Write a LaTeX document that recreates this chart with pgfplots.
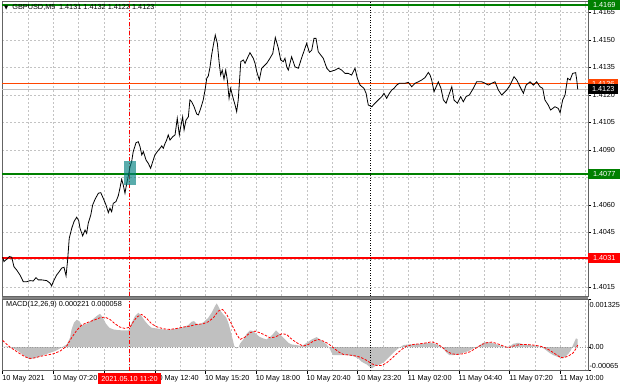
\documentclass[border=0pt]{standalone}
\usepackage{pgfplots}
\pgfplotsset{compat=1.18}
\usepackage{pgfplotstable}
\usepackage{fontspec}
\setmainfont{Liberation Sans}
\newfontfamily\dejavu{DejaVu Sans}
\definecolor{mtgreen}{RGB}{0,128,0}
\definecolor{mtred}{RGB}{255,0,0}
\definecolor{mtorange}{RGB}{255,69,0}
\definecolor{mtgrid}{RGB}{195,195,195}
\definecolor{mtsilver}{RGB}{192,192,192}
\definecolor{mtframe}{RGB}{100,100,100}
\definecolor{mtteal}{RGB}{0,128,128}
\newcommand\mtfont{\fontsize{7.3}{8.5}\selectfont}

\pgfplotstableread{
i p
0 1.40314
0.8 1.40290
2.5 1.40303
4.2 1.40317
5.7 1.40314
7.1 1.40262
8.8 1.40244
10.9 1.40217
13.0 1.40180
15.2 1.40180
17.2 1.40186
19.3 1.40184
21.0 1.40202
22.5 1.40190
24.6 1.40190
27.8 1.40186
29.9 1.40172
30.9 1.40157
31.9 1.40180
34.1 1.40217
35.7 1.40235
37.2 1.40254
38.7 1.40259
40.0 1.40212
41.0 1.40299
42.0 1.40417
43.6 1.40472
45.0 1.40508
46.7 1.40532
48.0 1.40513
48.8 1.40472
50.5 1.40430
52.0 1.40462
53.0 1.40444
54.0 1.40499
55.6 1.40544
56.8 1.40599
58.3 1.40630
60.4 1.40663
61.9 1.40666
63.5 1.40635
65.2 1.40599
66.7 1.40557
67.7 1.40581
68.8 1.40562
69.8 1.40608
71.5 1.40617
73.0 1.40650
74.0 1.40690
75.1 1.40739
76.1 1.40708
77.2 1.40663
78.3 1.40717
79.3 1.40757
80.4 1.40808
81.4 1.40835
82.4 1.40890
84.2 1.40939
85.6 1.40944
86.7 1.40917
87.8 1.40872
88.8 1.40890
90.5 1.40844
91.9 1.40826
93.4 1.40799
94.7 1.40835
96.1 1.40872
97.6 1.40890
99.3 1.40908
100.4 1.40921
101.4 1.40908
102.5 1.40935
103.5 1.40953
104.5 1.40981
105.6 1.40953
107.3 1.40971
108.8 1.40981
110.2 1.41072
111.5 1.40981
112.4 1.41026
113.6 1.41080
114.5 1.41008
115.7 1.41062
117.2 1.41080
118.2 1.41172
119.3 1.41162
120.8 1.41135
122.5 1.41095
123.5 1.41090
125.0 1.41126
126.6 1.41172
127.9 1.41235
128.8 1.41290
129.8 1.41303
130.9 1.41353
131.9 1.41417
133.0 1.41472
134.2 1.41526
135.5 1.41481
136.7 1.41372
137.6 1.41308
138.6 1.41335
139.7 1.41285
140.8 1.41335
141.8 1.41281
142.9 1.41181
143.9 1.41235
145.2 1.41190
146.7 1.41144
147.7 1.41108
148.7 1.41172
149.4 1.41263
150.3 1.41381
151.9 1.41390
153.0 1.41372
154.4 1.41399
156.1 1.41430
158.2 1.41399
159.3 1.41372
160.4 1.41326
162.0 1.41281
163.5 1.41345
166.7 1.41372
168.7 1.41399
170.5 1.41426
172.1 1.41513
174.0 1.41455
175.5 1.41390
177.1 1.41381
178.2 1.41399
179.3 1.41353
180.3 1.41335
182.4 1.41408
184.5 1.41353
186.6 1.41345
188.8 1.41403
190.8 1.41454
191.9 1.41481
193.6 1.41431
195.1 1.41444
196.5 1.41508
197.8 1.41508
199.2 1.41435
200.8 1.41417
202.4 1.41399
204.6 1.41345
206.6 1.41326
209.8 1.41335
211.9 1.41345
214.0 1.41335
216.1 1.41317
218.2 1.41317
220.3 1.41308
222.4 1.41345
223.9 1.41290
225.6 1.41253
228.1 1.41235
229.4 1.41208
230.8 1.41144
233.0 1.41135
235.0 1.41154
237.1 1.41172
239.3 1.41190
240.7 1.41208
242.4 1.41181
244.1 1.41208
245.6 1.41226
247.0 1.41235
248.7 1.41253
250.4 1.41263
254.0 1.41263
256.1 1.41268
258.2 1.41244
260.3 1.41263
262.4 1.41271
264.5 1.41281
266.6 1.41294
268.7 1.41322
269.8 1.41308
270.8 1.41281
272.3 1.41217
275.0 1.41271
276.7 1.41235
278.2 1.41172
279.9 1.41154
281.3 1.41190
283.5 1.41244
284.9 1.41172
287.0 1.41154
289.1 1.41190
290.8 1.41162
292.5 1.41190
294.6 1.41199
297.1 1.41235
299.2 1.41271
302.4 1.41271
304.5 1.41263
306.6 1.41253
308.7 1.41263
310.8 1.41271
312.9 1.41226
315.0 1.41199
318.2 1.41226
320.3 1.41253
322.8 1.41299
324.5 1.41281
326.6 1.41244
328.7 1.41208
330.4 1.41253
332.9 1.41271
335.0 1.41253
337.1 1.41271
339.2 1.41244
340.9 1.41235
342.3 1.41172
344.4 1.41144
345.9 1.41117
348.6 1.41135
350.7 1.41126
351.9 1.41102
353.5 1.41172
355.0 1.41199
356.6 1.41290
358.2 1.41281
359.8 1.41317
361.7 1.41321
362.4 1.41281
363.0 1.41230
}\pricetable

\pgfplotstableread{
i v
0 0
2.5 0.000018
4.6 0
6.7 -0.000037
9.9 -0.000110
13.0 -0.000220
15.1 -0.000294
17.2 -0.000331
19.3 -0.000312
22.5 -0.000275
25.7 -0.000220
29.9 -0.000156
33.0 -0.000110
36.2 -0.000037
38.3 0.000018
40.4 0.000073
42.5 0.000257
43.5 0.000487
45.0 0.000670
46.7 0.000753
48.4 0.000716
49.8 0.000606
52.0 0.000624
54.1 0.000670
56.8 0.000762
59.3 0.000854
61.4 0.000918
63.1 0.000826
65.2 0.000643
67.3 0.000533
69.8 0.000487
73.0 0.000468
76.1 0.000459
79.3 0.000459
80.4 0.000551
81.4 0.000670
83.5 0.000854
85.6 0.000946
87.7 0.000854
89.8 0.000716
92.0 0.000606
94.0 0.000533
97.2 0.000514
101.4 0.000487
105.6 0.000478
109.8 0.000514
114.0 0.000551
117.2 0.000606
119.3 0.000698
120.8 0.000716
122.4 0.000643
124.5 0.000624
127.1 0.000698
129.8 0.000808
131.9 0.000946
134.0 0.001130
135.1 0.001203
136.1 0.001130
137.6 0.000992
139.3 0.000900
141.0 0.000826
142.4 0.000670
143.9 0.000441
145.2 0.000211
146.2 0.000028
147.7 -0.000037
149.0 0
149.8 0.000092
151.9 0.000211
154.0 0.000367
156.1 0.000459
158.2 0.000441
160.3 0.000349
162.4 0.000275
164.5 0.000239
166.6 0.000211
168.7 0.000275
170.8 0.000367
172.5 0.000459
174.0 0.000395
176.1 0.000303
178.2 0.000211
180.3 0.000119
182.4 0.000073
185.6 0.000055
188.8 0.000028
191.9 0.000119
195.1 0.000211
198.2 0.000275
200.3 0.000211
202.4 0.000147
204.5 0.000073
206.2 -0.000018
207.7 -0.000156
208.8 -0.000220
213.0 -0.000220
217.2 -0.000220
221.4 -0.000248
224.5 -0.000312
226.6 -0.000404
229.8 -0.000478
231.9 -0.000551
233.0 -0.000588
235.1 -0.000523
238.2 -0.000478
241.4 -0.000386
244.5 -0.000248
247.7 -0.000110
249.8 -0.000037
252.9 0.000055
256.1 0.000073
259.2 0.000073
263.5 0.000092
267.7 0.000110
270.8 0.000119
274.0 0.000073
277.1 0
278.6 -0.000064
280.3 -0.000156
282.0 -0.000220
284.5 -0.000220
287.7 -0.000202
290.8 -0.000156
294.0 -0.000110
297.1 -0.000037
300.3 0.000028
303.4 0.000119
305.5 0.000138
308.7 0.000119
311.9 0.000073
315.0 0.000028
318.2 0
320.3 0.000028
322.4 0.000092
325.5 0.000119
328.7 0.000073
332.9 0.000055
337.1 0.000028
340.3 0
342.4 -0.000064
345.1 -0.000156
347.6 -0.000220
350.8 -0.000275
352.9 -0.000312
355.0 -0.000275
357.1 -0.000184
358.6 -0.000092
360.2 0.000073
361.9 0.000239
363.0 0.000221
363.0 0
}\histtable

\pgfplotstableread{
i v
0 0.000184
1.5 0.000119
4.6 0
7.8 -0.000092
11.0 -0.000184
14.1 -0.000266
17.2 -0.000312
20.4 -0.000294
23.5 -0.000257
27.8 -0.000220
32.0 -0.000184
36.2 -0.000110
40.4 0.000028
43.5 0.000257
46.7 0.000459
49.8 0.000606
53.0 0.000670
57.2 0.000735
61.4 0.000808
64.6 0.000826
67.7 0.000762
70.9 0.000643
74.0 0.000551
77.2 0.000514
80.4 0.000551
82.5 0.000698
84.6 0.000826
87.7 0.000900
90.9 0.000790
94.0 0.000643
97.2 0.000560
101.4 0.000505
105.6 0.000487
109.8 0.000514
114.0 0.000551
118.2 0.000579
122.4 0.000624
126.6 0.000643
129.8 0.000698
133.0 0.000808
136.1 0.000992
138.8 0.001038
141.4 0.000900
143.5 0.000716
145.6 0.000533
147.7 0.000349
149.8 0.000211
153.0 0.000275
156.1 0.000395
159.3 0.000441
162.4 0.000395
165.6 0.000331
168.7 0.000257
171.9 0.000275
176.1 0.000367
179.3 0.000349
181.4 0.000257
183.5 0.000184
186.7 0.000092
189.8 0.000028
193.0 0.000073
196.1 0.000165
199.3 0.000211
202.4 0.000165
205.6 0.000092
208.8 -0.000018
211.9 -0.000129
215.1 -0.000202
219.3 -0.000220
223.5 -0.000248
226.6 -0.000294
229.8 -0.000367
233.0 -0.000459
236.1 -0.000505
239.3 -0.000505
242.4 -0.000432
245.6 -0.000312
248.7 -0.000184
251.9 -0.000064
255.0 0.000028
259.2 0.000073
263.5 0.000092
267.7 0.000119
270.8 0.000147
274.0 0.000101
277.1 0.000009
280.3 -0.000110
283.4 -0.000184
286.6 -0.000202
290.8 -0.000184
295.0 -0.000129
299.2 -0.000018
302.4 0.000073
305.5 0.000119
308.7 0.000138
311.9 0.000101
316.1 0.000028
319.2 -0.000018
322.4 0.000028
326.6 0.000073
330.8 0.000073
335.0 0.000055
339.2 0.000028
342.4 -0.000018
345.5 -0.000092
348.7 -0.000184
351.8 -0.000275
353.9 -0.000294
357.1 -0.000248
360.2 -0.000156
361.9 -0.000040
363.0 0.000058
}\signaltable

\begin{document}
\begin{tikzpicture}[x=1pt,y=1pt]
\useasboundingbox (0pt,0pt) rectangle (620pt,-388pt);
\fill[white] (0pt,0pt) rectangle (620pt,-388pt);
% panel separator band
\fill[mtframe!80] (2pt,-296pt) rectangle (588pt,-299pt);

% ---------------- main price panel ----------------
\begin{axis}[
  at={(2pt,-1pt)}, anchor=north west,
  scale only axis, width=586pt, height=295pt,
  xmin=-0.44, xmax=369.5, ymin=1.40102, ymax=1.41712,
  axis line style={mtframe, line width=0.8pt},
  xtick={0,32,...,352}, minor xtick={16,48,...,368},
  xticklabels={}, xtick style={draw=none},
  xmajorgrids, xminorgrids, ymajorgrids,
  grid style={mtgrid, dash pattern=on 2pt off 2pt, line width=0.5pt},
  minor grid style={mtgrid, dash pattern=on 2pt off 2pt, line width=0.5pt},
  ytick={1.4015,1.4030,1.4045,1.4060,1.4075,1.4090,1.4105,1.4120,1.4135,1.4150,1.4165},
  ytick pos=right, yticklabel pos=right, tick align=outside,
  major tick length=3pt, minor tick length=0pt,
  ytick style={black, line width=0.5pt},
  yticklabel style={font=\mtfont, anchor=west, inner sep=0pt, xshift=1.5pt},
  /pgf/number format/fixed, /pgf/number format/fixed zerofill,
  /pgf/number format/precision=4, /pgf/number format/assume math mode=true,
  scaled y ticks=false,
]
\addplot[mtsilver, line width=0.8pt] coordinates {(-0.44,1.4123) (369.5,1.4123)};
\addplot[mtorange, line width=1pt] coordinates {(-0.44,1.4126) (369.5,1.4126)};
\addplot[mtgreen, line width=2.6pt] coordinates {(-0.44,1.4169) (369.5,1.4169)};
\addplot[mtgreen, line width=1.8pt] coordinates {(-0.44,1.4077) (369.5,1.4077)};
\addplot[mtred, line width=1.6pt] coordinates {(-0.44,1.4031) (369.5,1.4031)};
\addplot[mtred, line width=0.7pt, dash pattern=on 4pt off 2pt on 1pt off 2pt] coordinates {(80,1.40102) (80,1.41712)};
\addplot[black, line width=0.8pt, dash pattern=on 1pt off 1.5pt] coordinates {(232,1.40102) (232,1.41712)};
\addplot[black, line width=0.8pt] table[x=i, y=p] {\pricetable};
\fill[mtteal, opacity=0.65] (axis cs:76.8,1.40708) rectangle (axis cs:84.2,1.40839);
\coordinate (L4169) at (axis cs:369.5,1.4169);
\coordinate (L4126) at (axis cs:369.5,1.4126);
\coordinate (L4123) at (axis cs:369.5,1.4123);
\coordinate (L4077) at (axis cs:369.5,1.4077);
\coordinate (L4031) at (axis cs:369.5,1.4031);
\end{axis}

% ---------------- MACD panel ----------------
\begin{axis}[
  at={(2pt,-299pt)}, anchor=north west,
  scale only axis, width=586pt, height=71.7pt,
  xmin=-0.44, xmax=369.5, ymin=-0.00065, ymax=0.001325,
  axis line style={mtframe, line width=0.8pt},
  xtick={0,32,...,352}, minor xtick={16,48,...,368},
  xticklabels={10 May 2021,10 May 07:20,{},10 May 12:40,10 May 15:20,10 May 18:00,10 May 20:40,10 May 23:20,11 May 02:00,11 May 04:40,11 May 07:20,11 May 10:00},
  xtick pos=bottom, tick align=outside,
  major tick length=3pt, minor tick length=0pt,
  xmajorgrids, xminorgrids,
  grid style={mtgrid, dash pattern=on 2pt off 2pt, line width=0.5pt},
  minor grid style={mtgrid, dash pattern=on 2pt off 2pt, line width=0.5pt},
  tick style={black, line width=0.5pt},
  xticklabel style={font=\mtfont, anchor=north west, inner sep=0pt, xshift=-0.5pt, yshift=-1pt},
  ytick={-0.00065,0,0.001325}, yticklabels={}, ytick pos=right,
  scaled y ticks=false,
]
\addplot[fill=mtsilver, draw=none] table[x=i, y=v] {\histtable} -- cycle;
\addplot[mtsilver!80!black, line width=0.6pt, dash pattern=on 1pt off 1.5pt] coordinates {(-0.44,0) (369.5,0)};
\addplot[mtred, line width=0.8pt, dash pattern=on 2.5pt off 1.5pt] table[x=i, y=v] {\signaltable};
\addplot[mtred, line width=0.7pt, dash pattern=on 4pt off 2pt on 1pt off 2pt] coordinates {(80,-0.00065) (80,0.001325)};
\addplot[black, line width=0.8pt, dash pattern=on 1pt off 1.5pt] coordinates {(232,-0.00065) (232,0.001325)};
\node[anchor=west, font=\mtfont, inner sep=0pt] at (rel axis cs:0,1) [xshift=4pt, yshift=-6pt] {MACD(12,26,9) 0.000221 0.000058};
\coordinate (MTop) at (rel axis cs:1,1);
\coordinate (MZero) at (axis cs:369.5,0);
\coordinate (MBot) at (rel axis cs:1,0);
\coordinate (Cross) at (axis cs:80,-0.00065);
\end{axis}

% MACD right labels
\node[anchor=west, font=\mtfont, inner sep=0pt] at ([xshift=1.3pt, yshift=-6pt]MTop) {0.001325};
\node[anchor=west, font=\mtfont, inner sep=0pt] at ([xshift=1.3pt]MZero) {0.00};
\node[anchor=west, font=\mtfont, inner sep=0pt] at ([xshift=1.3pt, yshift=4.5pt]MBot) {-0.00065};

% price boxes on the right scale
\node[fill=mtgreen, text=white, font=\mtfont, anchor=west, inner sep=0pt, minimum width=32pt, minimum height=10pt] at (L4169) {1.4169};
\node[fill=mtorange, text=white, font=\mtfont, anchor=west, inner sep=0pt, minimum width=30pt, minimum height=10pt] at (L4126) {1.4126};
\node[fill=black, text=white, font=\mtfont, anchor=west, inner sep=0pt, minimum width=30pt, minimum height=10pt] at (L4123) {1.4123};
\node[fill=mtgreen, text=white, font=\mtfont, anchor=west, inner sep=0pt, minimum width=32pt, minimum height=10pt] at (L4077) {1.4077};
\node[fill=mtred, text=white, font=\mtfont, anchor=west, inner sep=0pt, minimum width=32pt, minimum height=10pt] at (L4031) {1.4031};

% crosshair time label
\node[fill=mtred, text=white, font=\mtfont, anchor=north, inner sep=0pt, minimum width=63pt, minimum height=11pt] at ([yshift=-2.5pt]Cross) {2021.05.10 11:20};

% title
\node[anchor=west, font=\mtfont, inner sep=0pt] at (4pt,-7.8pt) {{\dejavu\fontsize{5.5}{6}\selectfont ▼}\hspace{4pt}GBPUSD,M5\enspace 1.4131 1.4132 1.4122 1.4123};
\end{tikzpicture}
\end{document}
